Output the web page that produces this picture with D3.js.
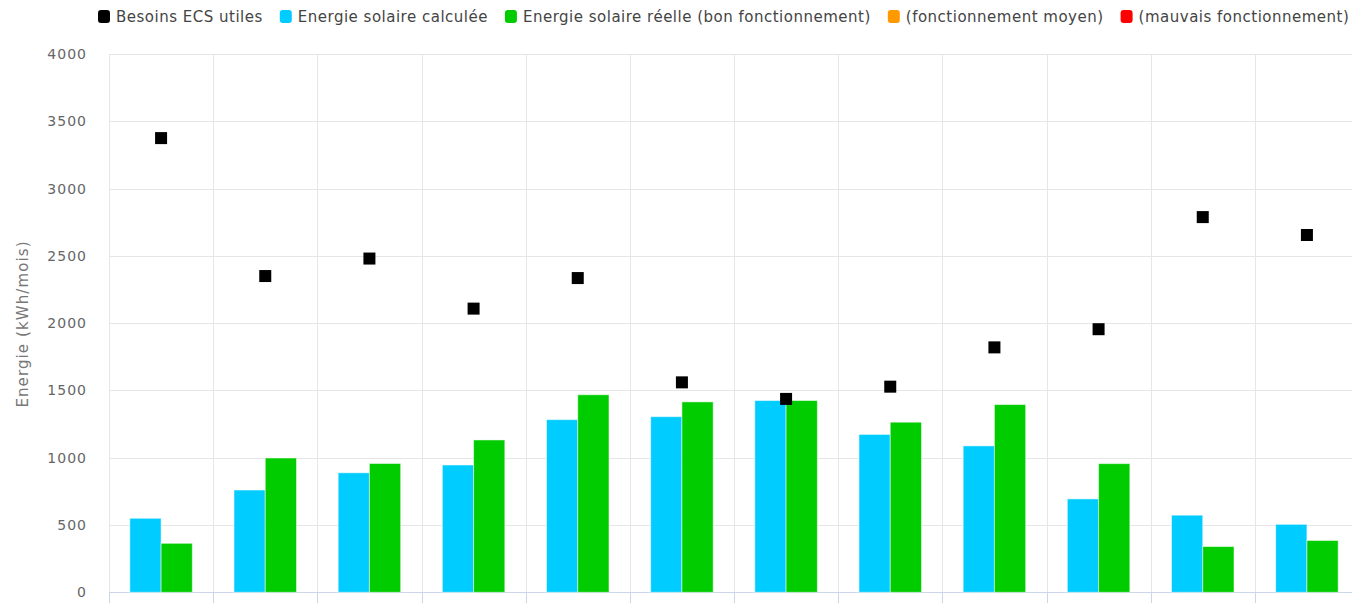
<!DOCTYPE html>
<html>
<head>
<meta charset="utf-8">
<script src="https://cdn.jsdelivr.net/npm/d3@7"></script>
<style>
  html, body { margin: 0; padding: 0; background: #fff; }
  svg { display: block; font-family: "DejaVu Sans", Verdana, sans-serif; }
</style>
</head>
<body>
<svg id="chart" width="1352" height="603"></svg>
<script>
// Monthly categories
const months = ["janv.", "févr.", "mars", "avr.", "mai", "juin", "juil.", "août", "sept.", "oct.", "nov.", "déc."];
// Useful hot-water needs (kWh/month)
const besoins = [3375, 2350, 2480, 2108, 2335, 1560, 1437, 1528, 1820, 1955, 2788, 2655];
// Computed solar energy (kWh/month)
const solaireCalc = [550, 760, 888, 946, 1283, 1305, 1425, 1173, 1088, 694, 573, 505];
// Measured solar energy, good operation (kWh/month)
const solaireReel = [364, 998, 957, 1132, 1468, 1415, 1425, 1264, 1395, 956, 340, 385];
const yTicks = [0, 500, 1000, 1500, 2000, 2500, 3000, 3500, 4000];

const legendItems = [
  { label: "Besoins ECS utiles", color: "#000000" },
  { label: "Energie solaire calculée", color: "#00ccff" },
  { label: "Energie solaire réelle (bon fonctionnement)", color: "#00cc00" },
  { label: "(fonctionnement moyen)", color: "#ff9900" },
  { label: "(mauvais fonctionnement)", color: "#ff0000" }
];

const svg = d3.select("#chart");
const plotLeft = 109, plotRight = 1359, plotTop = 54, plotBottom = 592.3;

const x0 = d3.scaleBand().domain(months).range([plotLeft, plotRight]);
const bw = x0.bandwidth();
const x1 = d3.scaleBand().domain(["calc", "reel"]).range([bw * 0.2, bw * 0.8]);
const y = d3.scaleLinear().domain([0, 4000]).range([plotBottom, plotTop]);

// horizontal grid
svg.append("g").selectAll("line").data(yTicks).join("line")
  .attr("x1", plotLeft).attr("x2", plotRight)
  .attr("y1", d => Math.round(y(d)) + 0.5).attr("y2", d => Math.round(y(d)) + 0.5)
  .attr("stroke", "#e6e6e6").attr("stroke-width", 1);

// vertical grid at category boundaries
const bounds = months.map(m => x0(m)).concat([plotRight]);
svg.append("g").selectAll("line").data(bounds).join("line")
  .attr("x1", d => Math.round(d) + 0.5).attr("x2", d => Math.round(d) + 0.5)
  .attr("y1", plotTop).attr("y2", plotBottom)
  .attr("stroke", "#e4e6ee").attr("stroke-width", 1);

// x axis line and ticks
svg.append("line")
  .attr("x1", plotLeft).attr("x2", plotRight)
  .attr("y1", Math.round(plotBottom) + 0.5).attr("y2", Math.round(plotBottom) + 0.5)
  .attr("stroke", "#ccd6eb").attr("stroke-width", 1);
svg.append("g").selectAll("line").data(bounds).join("line")
  .attr("x1", d => Math.round(d) + 0.5).attr("x2", d => Math.round(d) + 0.5)
  .attr("y1", Math.round(plotBottom)).attr("y2", Math.round(plotBottom) + 12)
  .attr("stroke", "#ccd6eb").attr("stroke-width", 1);

// y tick labels
svg.append("g").selectAll("text").data(yTicks).join("text")
  .attr("x", 87).attr("y", d => y(d) + 5)
  .attr("text-anchor", "end")
  .attr("fill", "#666")
  .attr("font-size", 14)
  .attr("letter-spacing", 1)
  .text(d => d);

// y axis title
svg.append("text")
  .attr("transform", `translate(28, 324) rotate(-90)`)
  .attr("text-anchor", "middle")
  .attr("fill", "#777")
  .attr("font-size", 15)
  .attr("letter-spacing", 1.1)
  .text("Energie (kWh/mois)");

// bars
const groups = svg.append("g").selectAll("g").data(months).join("g")
  .attr("transform", m => `translate(${x0(m)},0)`);
groups.append("rect")
  .attr("x", x1("calc"))
  .attr("width", x1.bandwidth())
  .attr("y", (m, i) => y(solaireCalc[i]))
  .attr("height", (m, i) => y(0) - y(solaireCalc[i]))
  .attr("fill", "#00ccff").attr("stroke", "rgba(255,255,255,0.5)").attr("stroke-width", 1);
groups.append("rect")
  .attr("x", x1("reel"))
  .attr("width", x1.bandwidth())
  .attr("y", (m, i) => y(solaireReel[i]))
  .attr("height", (m, i) => y(0) - y(solaireReel[i]))
  .attr("fill", "#00cc00").attr("stroke", "rgba(255,255,255,0.5)").attr("stroke-width", 1);

// needs markers
const ms = 12;
svg.append("g").selectAll("rect").data(months).join("rect")
  .attr("x", m => x0(m) + bw / 2 - ms / 2)
  .attr("y", (m, i) => y(besoins[i]) - ms / 2)
  .attr("width", ms).attr("height", ms)
  .attr("fill", "#000");

// legend
const lg = svg.append("g").attr("font-size", 15).attr("letter-spacing", 0.5);
let lx = 98;
legendItems.forEach(it => {
  lg.append("rect").attr("x", lx).attr("y", 10).attr("width", 12).attr("height", 13)
    .attr("rx", 3).attr("fill", it.color);
  const t = lg.append("text").attr("x", lx + 18).attr("y", 22)
    .attr("fill", "#444").text(it.label);
  lx += 18 + t.node().getComputedTextLength() + 17;
});
</script>
</body>
</html>
